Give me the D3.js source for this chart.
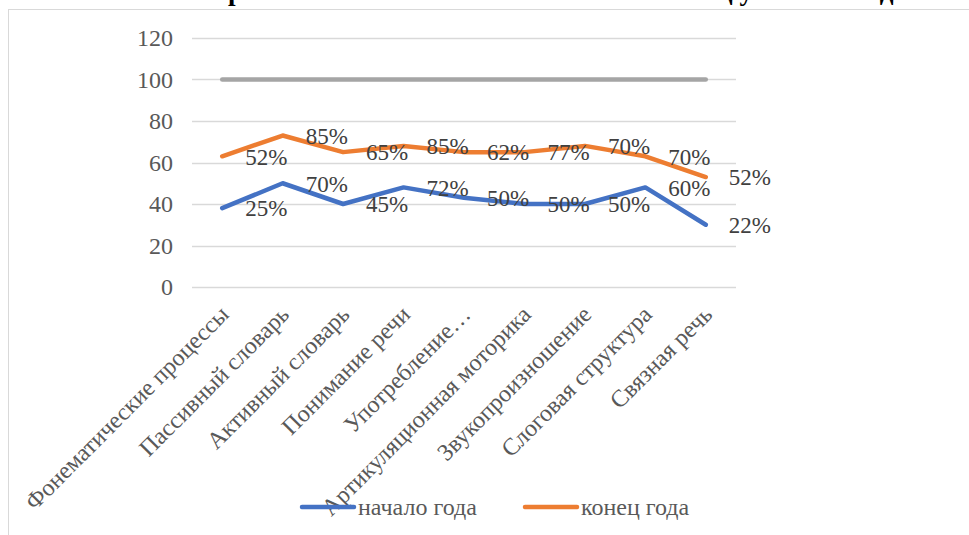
<!DOCTYPE html>
<html>
<head>
<meta charset="utf-8">
<script src="https://cdn.jsdelivr.net/npm/d3@7"></script>
<style>
  html, body { margin: 0; padding: 0; background: #fff; overflow: hidden; }
</style>
</head>
<body>
<svg id="chart" width="969" height="535" font-family="Liberation Serif"></svg>
<script>
const categories = [
    'Фонематические процессы',
    'Пассивный словарь',
    'Активный словарь',
    'Понимание речи',
    'Употребление…',
    'Артикуляционная моторика',
    'Звукопроизношение',
    'Слоговая структура',
    'Связная речь'
]
const startValues = [38, 50, 40, 48, 43, 40, 40, 48, 30]
const endValues = [63, 73, 65, 68, 65, 65, 68, 63, 53]
const maxValues = [100, 100, 100, 100, 100, 100, 100, 100, 100]
const startLabels = ['25%', '70%', '45%', '72%', '50%', '50%', '50%', '60%', '22%']
const endLabels = ['52%', '85%', '65%', '85%', '62%', '77%', '70%', '70%', '52%']
const yTicks = [0, 20, 40, 60, 80, 100, 120]
const titleText = 'Сравнительный анализ на начало и конец учебного года'

const FONT = 'Liberation Serif'
const svg = d3.select('#chart')

// chart frame (runs past the window on the right / bottom)
svg.append('rect')
    .attr('x', 8.5).attr('y', 9.5)
    .attr('width', 1000).attr('height', 600)
    .attr('fill', 'none')
    .attr('stroke', '#d9d9d9')

// title, cut off at the top: only descenders show
const title = svg.append('text')
    .attr('x', 0).attr('y', 0)
    .attr('font-family', FONT)
    .attr('font-size', 26)
    .attr('font-weight', 'bold')
    .attr('fill', '#000')
    .text(titleText)
{
    const node = title.node()
    const iR = titleText.indexOf('р')
    const iD = titleText.lastIndexOf('д')
    const pR = node.getStartPositionOfChar(iR).x
    const pD = node.getStartPositionOfChar(iD).x
    const k = (880 - 228) / (pD - pR)
    title.attr('font-size', 26 * k).attr('x', 228 - pR * k)
}

const x = d3.scalePoint().domain(categories).range([192, 736]).padding(0.5)
const y = d3.scaleLinear().domain([0, 120]).range([287, 38])

// grid
svg.append('g')
    .selectAll('line')
    .data(yTicks)
    .join('line')
    .attr('x1', 192).attr('x2', 736)
    .attr('y1', d => Math.round(y(d)) + 0.5)
    .attr('y2', d => Math.round(y(d)) + 0.5)
    .attr('stroke', '#d9d9d9')
    .attr('stroke-width', 1.3)

// y axis labels
const yAxis = svg.append('g')
    .attr('transform', 'translate(173,0)')
    .call(d3.axisLeft(y).tickValues(yTicks).tickSize(0).tickPadding(0))
yAxis.select('.domain').remove()
yAxis.attr('font-family', FONT)
yAxis.selectAll('text')
    .attr('font-size', 24)
    .attr('fill', '#595959')

// category labels, rotated
svg.append('g')
    .selectAll('text')
    .data(categories)
    .join('text')
    .attr('transform', d => `translate(${x(d) + 2},${310}) rotate(-45)`)
    .attr('text-anchor', 'end')
    .attr('dy', '0.35em')
    .attr('font-family', FONT)
    .attr('font-size', 24)
    .attr('fill', '#595959')
    .text(d => d)

const series = [
    { values: maxValues, color: '#a5a5a5' },
    { values: endValues, color: '#ed7d31', labels: endLabels },
    { values: startValues, color: '#4472c4', labels: startLabels }
]

const line = d3.line()
    .x((d, i) => x(categories[i]))
    .y(d => y(d))

svg.append('g')
    .attr('fill', 'none')
    .attr('stroke-width', 4.5)
    .attr('stroke-linecap', 'round')
    .attr('stroke-linejoin', 'round')
    .selectAll('path')
    .data(series)
    .join('path')
    .attr('stroke', d => d.color)
    .attr('d', d => line(d.values))

// data labels, right of each point
series.filter(s => s.labels).forEach(s => {
    svg.append('g')
        .selectAll('text')
        .data(s.values)
        .join('text')
        .attr('x', (d, i) => x(categories[i]) + 23)
        .attr('y', d => y(d))
        .attr('dy', '0.36em')
        .attr('font-family', FONT)
        .attr('font-size', 23)
        .attr('fill', '#404040')
        .text((d, i) => s.labels[i])
})

// legend
const legendItems = [
    { name: 'начало года', color: '#4472c4', x: 302 },
    { name: 'конец года', color: '#ed7d31', x: 525 }
]
const legend = svg.append('g')
    .selectAll('g')
    .data(legendItems)
    .join('g')
    .attr('transform', d => `translate(${d.x},507)`)
legend.append('line')
    .attr('x1', 0).attr('x2', 52)
    .attr('stroke', d => d.color)
    .attr('stroke-width', 4.5)
    .attr('stroke-linecap', 'round')
legend.append('text')
    .attr('x', 56)
    .attr('dy', '0.33em')
    .attr('font-family', FONT)
    .attr('font-size', 24)
    .attr('fill', '#595959')
    .text(d => d.name)
</script>
</body>
</html>
